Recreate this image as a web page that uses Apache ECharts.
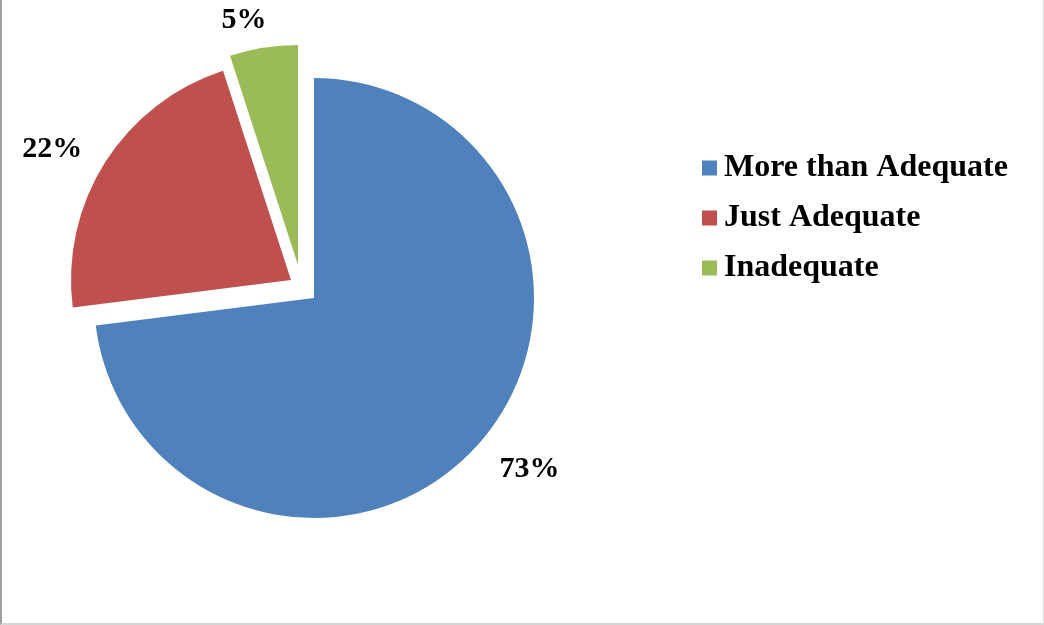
<!DOCTYPE html>
<html>
<head>
<meta charset="utf-8">
<script src="https://cdn.jsdelivr.net/npm/echarts@6/dist/echarts.min.js"></script>
<style>
  html, body { margin: 0; padding: 0; background: #fff; }
  #frame { position: absolute; left: 0; top: 0; width: 1044px; height: 625px; box-sizing: border-box;
           border-left: 2px solid #a0a0a0; border-right: 1px solid #dcdcdc; border-bottom: 2px solid #d6d6d6; }
  #chart { position: absolute; left: 0; top: 0; width: 1044px; height: 625px; }
</style>
</head>
<body>
<div id="frame"></div>
<div id="chart"></div>
<script>
// ---- data ----
const categories = ['More than Adequate', 'Just Adequate', 'Inadequate'];
const values = [73, 22, 5];
const colors = ['#4F81BD', '#C0504D', '#9BBB59'];

// ---- layout (pixels) ----
const radius = 220;
const sliceCenters = [[314, 298], [291, 280], [298, 265]]; // exploded slices
const labelExtra = [54, 52, 30];
const labelNudge = [[10, -10], [-9, 15], [-15, 2]];
const fontFam = '"Liberation Serif", "Times New Roman", serif';

const total = values.reduce((a, b) => a + b, 0);
function midAngle(i) {
  let cum = 0;
  for (let k = 0; k < i; k++) cum += values[k];
  return 2 * Math.PI * (cum + values[i] / 2) / total;
}

const chart = echarts.init(document.getElementById('chart'), null, { renderer: 'canvas' });

const series = categories.map((name, si) => ({
  type: 'pie',
  silent: true,
  radius: radius,
  center: sliceCenters[si],
  startAngle: 90,
  clockwise: true,
  avoidLabelOverlap: false,
  emphasis: { disabled: true },
  label: { show: false },
  labelLine: { show: false },
  data: categories.map((n, i) => ({
    name: n,
    value: values[i],
    itemStyle: { color: i === si ? colors[i] : 'rgba(0,0,0,0)' },
    label: i === si ? {
      show: true,
      position: 'outside',
      formatter: '{d}%',
      color: '#000',
      fontFamily: fontFam,
      fontWeight: 'bold',
      fontSize: 30
    } : { show: false }
  })),
  labelLayout: function (params) {
    const i = params.dataIndex;
    const a = midAngle(i);
    const c = sliceCenters[si];
    const d = radius + labelExtra[i];
    return {
      x: c[0] + Math.sin(a) * d + labelNudge[i][0],
      y: c[1] - Math.cos(a) * d + labelNudge[i][1],
      align: 'center',
      verticalAlign: 'middle'
    };
  }
}));

chart.setOption({
  animation: false,
  backgroundColor: 'transparent',
  legend: {
    orient: 'vertical',
    left: 702,
    top: 152,
    padding: 0,
    itemWidth: 15,
    itemHeight: 15,
    itemGap: 18,
    icon: 'rect',
    selectedMode: false,
    data: categories.map((n, i) => ({ name: n, itemStyle: { color: colors[i] } })),
    textStyle: { fontFamily: fontFam, fontWeight: 'bold', fontSize: 32, color: '#000', padding: [0, 0, 0, 2] }
  },
  series: series
});
</script>
</body>
</html>
